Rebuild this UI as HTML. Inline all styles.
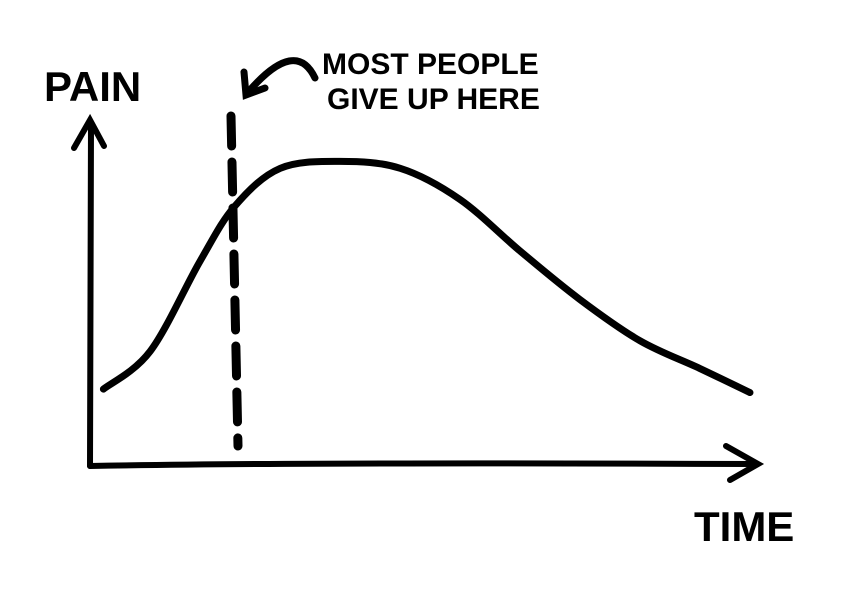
<!DOCTYPE html>
<html><head><meta charset="utf-8">
<style>
html,body{margin:0;padding:0;background:#fff;}
svg{display:block;}
text{font-family:"Liberation Sans",sans-serif;font-weight:bold;fill:#000;}
</style></head>
<body>
<svg id="chart" width="842" height="595" viewBox="0 0 842 595">
  <g stroke="#000" stroke-width="6" stroke-linecap="round" fill="none">
    <path d="M90 466 L91 124"/>
    <path d="M74 148 L90 120 L104 146"/>
  </g>
  <g stroke="#000" stroke-width="6" stroke-linecap="round" fill="none">
    <path d="M90 466 Q300 462 756 464"/>
    <path d="M726 446 L758 464 L730 480"/>
  </g>
  <path d="M231 116 L238 446" stroke="#000" stroke-width="9" stroke-dasharray="30 16" stroke-linecap="round" fill="none"/>
  <g stroke="#000" stroke-width="7" stroke-linecap="round" fill="none">
    <path d="M315 78 Q296 38 250 90"/>
    <path d="M244 72 L246 95 L265 88"/>
  </g>
  <text x="44" y="101" font-size="42">PAIN</text>
  <text x="694" y="541" font-size="42">TIME</text>
  <text x="322" y="74" font-size="30">MOST PEOPLE</text>
  <text x="327" y="109" font-size="30">GIVE UP HERE</text>
</svg>
<script>
const times = [2, 9, 16.4, 21.6, 28.4, 37.3, 46.3, 55.2, 64.2, 73.1, 82.1, 91, 98.5];
const pain = [22, 33, 59, 75, 86, 88, 86, 77, 62, 48, 36, 28, 21];
function xScale(t){ return 90 + t * 6.7; }
function yScale(p){ return 465 - p * 3.45; }
const pts = times.map((t,i)=>[xScale(t), yScale(pain[i])]);
let d = 'M' + pts[0][0] + ' ' + pts[0][1];
for (let i=0;i<pts.length-1;i++){
  const p0=pts[Math.max(0,i-1)], p1=pts[i], p2=pts[i+1], p3=pts[Math.min(pts.length-1,i+2)];
  const c1x=p1[0]+(p2[0]-p0[0])/6, c1y=p1[1]+(p2[1]-p0[1])/6;
  const c2x=p2[0]-(p3[0]-p1[0])/6, c2y=p2[1]-(p3[1]-p1[1])/6;
  d += ` C${c1x} ${c1y} ${c2x} ${c2y} ${p2[0]} ${p2[1]}`;
}
const path = document.createElementNS('http://www.w3.org/2000/svg','path');
path.setAttribute('d', d);
path.setAttribute('stroke', '#000');
path.setAttribute('stroke-width', '7');
path.setAttribute('stroke-linecap', 'round');
path.setAttribute('fill', 'none');


document.getElementById('chart').appendChild(path);
</script>
</body></html>
